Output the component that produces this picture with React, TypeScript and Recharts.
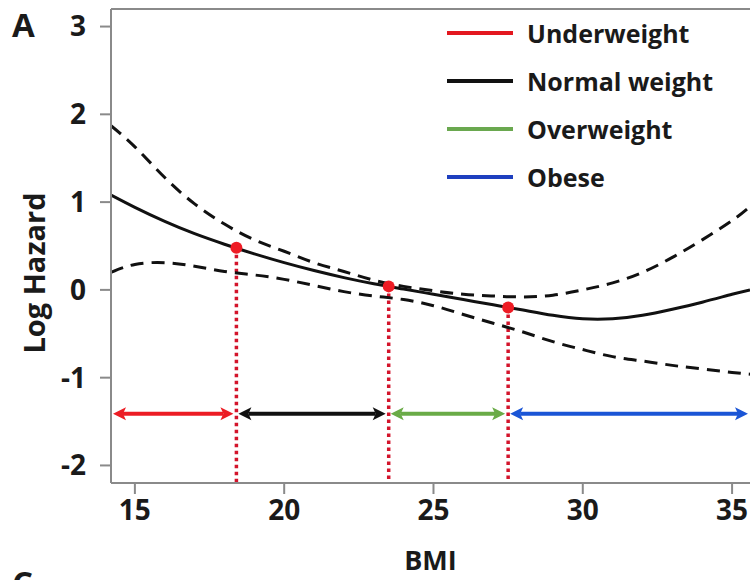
import React from "react";
import { LineChart, Line, XAxis, YAxis, ReferenceLine, ReferenceDot, Label } from "recharts";

// spline fit of log hazard vs BMI with its 95% band
const BMI = [14.2, 15, 16, 17, 18, 19, 20, 21, 22, 23, 24, 25, 26, 27, 28, 29, 30, 31, 32, 33, 34, 35, 35.6];
const LOG_HAZARD = [1.08, 0.94, 0.78, 0.64, 0.52, 0.41, 0.31, 0.22, 0.14, 0.07, 0.01, -0.05, -0.11, -0.17, -0.23, -0.29, -0.33, -0.33, -0.29, -0.22, -0.14, -0.05, 0.0];
const UPPER_CI = [1.87, 1.63, 1.28, 0.98, 0.75, 0.57, 0.44, 0.31, 0.21, 0.11, 0.04, -0.01, -0.05, -0.07, -0.08, -0.06, 0.0, 0.08, 0.2, 0.37, 0.57, 0.79, 0.95];
const LOWER_CI = [0.2, 0.29, 0.31, 0.27, 0.21, 0.17, 0.12, 0.05, -0.02, -0.07, -0.11, -0.18, -0.28, -0.38, -0.48, -0.59, -0.68, -0.76, -0.81, -0.86, -0.9, -0.94, -0.96];

const CATEGORIES = ["Underweight", "Normal weight", "Overweight", "Obese"];
const LEGEND_COLORS = ["#e3171f", "#111111", "#6aa84f", "#1e3fbf"];
const ARROW_COLORS = ["#ec1c24", "#111111", "#6aab47", "#1a55d6"];

// category boundaries on the BMI axis and the fitted value at each
const CUTOFFS = [18.4, 23.5, 27.5];
const CUTOFF_HAZARD = [0.48, 0.04, -0.2];
const BAND_EDGES = [14.2, 18.4, 23.5, 27.5, 35.6];
const ARROW_LEVEL = -1.41;

const X_TICKS = [15, 20, 25, 30, 35];
const Y_TICKS = [-2, -1, 0, 1, 2, 3];
const X_DOMAIN = [14.2, 35.6];
const Y_DOMAIN = [-2.2, 3.2];

const data = BMI.map((bmi, i) => ({
  bmi,
  fit: LOG_HAZARD[i],
  upper: UPPER_CI[i],
  lower: LOWER_CI[i],
}));

const FONT = "'Open Sans', 'DejaVu Sans', sans-serif";
const AXIS_GREY = "#8a8a8a";
const INK = "#1a1a1a";

// double-headed arrow drawn between the two ends of a reference segment
const arrowShape = (color: string, insetL: number, insetR: number) => (p: any) => {
  const a = p.x1 + insetL;
  const b = p.x2 - insetR;
  const y = p.y1;
  const len = 13;
  const half = 6.5;
  return (
    <g>
      <line x1={a + len - 3} y1={y} x2={b - len + 3} y2={y} stroke={color} strokeWidth={4} />
      <polygon points={`${a},${y} ${a + len},${y - half} ${a + len - 3},${y} ${a + len},${y + half}`} fill={color} />
      <polygon points={`${b},${y} ${b - len},${y - half} ${b - len + 3},${y} ${b - len},${y + half}`} fill={color} />
    </g>
  );
};

export default function App() {
  return (
    <div
      style={{
        position: "absolute",
        left: 0,
        top: 0,
        width: 750,
        height: 580,
        overflow: "hidden",
        background: "#fff",
        fontFamily: FONT,
      }}
    >
      <LineChart width={750} height={580} data={data} margin={{ top: 9, right: 0, left: 0, bottom: 0 }}>
        <XAxis
          dataKey="bmi"
          type="number"
          domain={X_DOMAIN}
          ticks={X_TICKS}
          allowDataOverflow
          height={97}
          stroke={AXIS_GREY}
          strokeWidth={2}
          tickSize={11}
          tickMargin={6}
          tick={{ fill: INK, fontSize: 28, fontWeight: 700, fontFamily: FONT }}
        >
          <Label value="BMI" position="insideBottom" offset={10} fill={INK} fontSize={27} fontWeight={700} fontFamily={FONT} />
        </XAxis>
        <YAxis
          type="number"
          domain={Y_DOMAIN}
          ticks={Y_TICKS}
          allowDataOverflow
          width={111}
          stroke={AXIS_GREY}
          strokeWidth={2}
          tickSize={11}
          tickMargin={14}
          tick={{ fill: INK, fontSize: 28, fontWeight: 700, fontFamily: FONT }}
        >
          <Label
            content={() => (
              <text
                x={33}
                y={273}
                transform="rotate(-90 33 273)"
                textAnchor="middle"
                dominantBaseline="central"
                fill={INK}
                fontSize={29}
                fontWeight={700}
                fontFamily={FONT}
              >
                Log Hazard
              </text>
            )}
          />
        </YAxis>

        {/* top edge of the frame */}
        <ReferenceLine y={Y_DOMAIN[1]} stroke={AXIS_GREY} strokeWidth={2} />

        {/* dotted drops from the curve to the axis at each cutoff */}
        {CUTOFFS.map((c, i) => (
          <ReferenceLine
            key={`drop-${c}`}
            segment={[
              { x: c, y: CUTOFF_HAZARD[i] },
              { x: c, y: Y_DOMAIN[0] },
            ]}
            stroke="#d3142b"
            strokeWidth={3.5}
            strokeDasharray="3.5 3.5"
          />
        ))}

        {/* category ranges */}
        {CATEGORIES.map((name, i) => (
          <ReferenceLine
            key={`range-${name}`}
            segment={[
              { x: BAND_EDGES[i], y: ARROW_LEVEL },
              { x: BAND_EDGES[i + 1], y: ARROW_LEVEL },
            ]}
            shape={arrowShape(ARROW_COLORS[i], 2, i === CATEGORIES.length - 1 ? 2 : 3)}
          />
        ))}

        <Line dataKey="upper" type="natural" stroke="#111" strokeWidth={3} strokeDasharray="13 8" dot={false} isAnimationActive={false} />
        <Line dataKey="lower" type="natural" stroke="#111" strokeWidth={3} strokeDasharray="13 8" dot={false} isAnimationActive={false} />
        <Line dataKey="fit" type="natural" stroke="#111" strokeWidth={3} dot={false} isAnimationActive={false} />

        {CUTOFFS.map((c, i) => (
          <ReferenceDot key={`dot-${c}`} x={c} y={CUTOFF_HAZARD[i]} r={6} fill="#ee1c25" stroke="none" />
        ))}
      </LineChart>

      {/* legend */}
      <div style={{ position: "absolute", left: 447, top: 9 }}>
        {CATEGORIES.map((name, i) => (
          <div key={name} style={{ display: "flex", alignItems: "center", height: 48 }}>
            <span style={{ width: 66, height: 4, background: LEGEND_COLORS[i], marginRight: 14 }} />
            <span style={{ fontSize: 25, fontWeight: 700, color: INK, lineHeight: 1 }}>{name}</span>
          </div>
        ))}
      </div>

      <div style={{ position: "absolute", left: 12, top: 2, fontSize: 33, fontWeight: 700, color: INK }}>A</div>
      <div style={{ position: "absolute", left: 12, top: 560, fontSize: 33, fontWeight: 700, color: INK }}>C</div>
    </div>
  );
}
